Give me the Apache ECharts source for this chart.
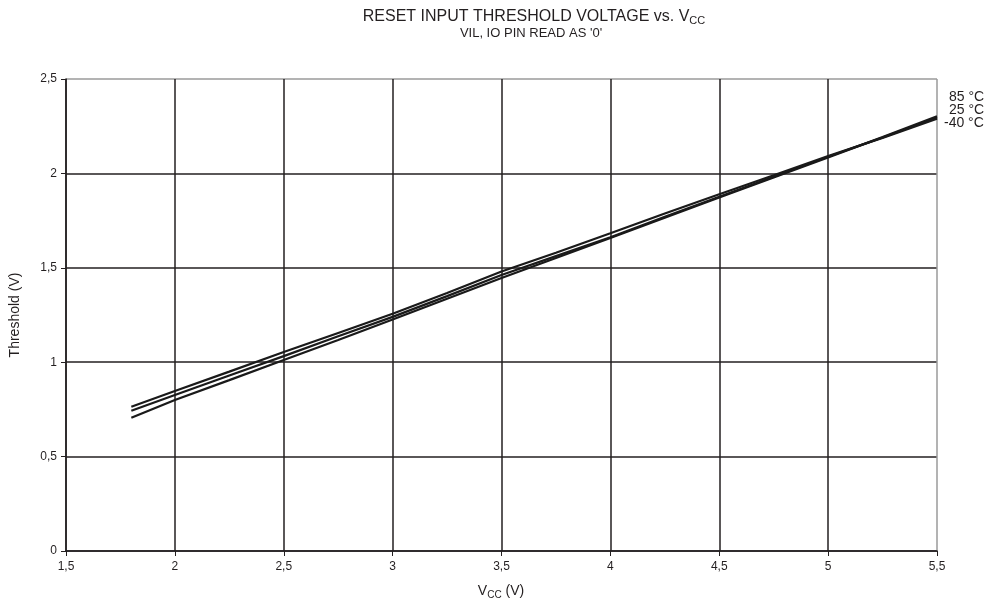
<!DOCTYPE html>
<html><head><meta charset="utf-8">
<script src="https://cdn.jsdelivr.net/npm/echarts@6/dist/echarts.min.js"></script>
<style>html,body{margin:0;padding:0;background:#fff}#c{width:997px;height:611px}</style>
</head><body><div id="c"></div>
<script>
const vcc = [1.8, 2.0, 2.25, 2.5, 2.75, 3.0, 3.25, 3.5, 3.75, 4.0, 4.25, 4.5, 4.75, 5.0, 5.25, 5.5];
const t85 = [0.706, 0.800, 0.905, 1.012, 1.118, 1.226, 1.336, 1.446, 1.552, 1.658, 1.765, 1.872, 1.978, 2.085, 2.192, 2.302];
const t25 = [0.743, 0.826, 0.930, 1.032, 1.137, 1.240, 1.350, 1.462, 1.562, 1.662, 1.770, 1.876, 1.982, 2.088, 2.190, 2.296];
const tm40 = [0.764, 0.847, 0.950, 1.054, 1.155, 1.257, 1.367, 1.480, 1.580, 1.683, 1.788, 1.890, 1.990, 2.092, 2.188, 2.290];
const seriesNames = ['85 °C', '25 °C', '-40 °C'];
const xTicks = [1.5, 2, 2.5, 3, 3.5, 4, 4.5, 5, 5.5];
const yTicks = [0, 0.5, 1, 1.5, 2, 2.5];

const fmt = v => String(v).replace('.', ',');
const pair = arr => vcc.map((x, i) => [x, arr[i]]);
const chart = echarts.init(document.getElementById('c'));
const font = 'Liberation Sans, Arial, sans-serif';
const dark = '#231f20';
const xCols = xTicks.map((v, i) => i === xTicks.length - 1 ? '#9a9a9a' : dark);
const yCols = yTicks.map((v, i) => i === yTicks.length - 1 ? '#9a9a9a' : dark);

chart.setOption({
  animation: false,
  backgroundColor: '#fff',
  grid: { left: 66, right: 60, top: 79, bottom: 60, containLabel: false },
  graphic: [
    { type: 'text', x: 534, y: 7, style: { align: 'center', verticalAlign: 'top', rich: { a: { fontSize: 16, fontFamily: font, fill: '#231f20' }, s: { fontSize: 11, fontFamily: font, fill: '#231f20', padding: [8, 0, 0, 0] } }, text: '{a|RESET INPUT THRESHOLD VOLTAGE vs. V}{s|CC}' } },
    { type: 'text', x: 531, y: 27, style: { align: 'center', verticalAlign: 'top', text: "VIL, IO PIN READ AS '0'", fontSize: 13, fontFamily: font, fill: '#231f20' } },
    { type: 'text', left: 949, top: 90, style: { text: seriesNames[0], fontSize: 14, fontFamily: font, fill: '#231f20' } },
    { type: 'text', left: 949, top: 103, style: { text: seriesNames[1], fontSize: 14, fontFamily: font, fill: '#231f20' } },
    { type: 'text', left: 944, top: 116, style: { text: seriesNames[2], fontSize: 14, fontFamily: font, fill: '#231f20' } },
    { type: 'text', x: 501, y: 583, style: { align: 'center', verticalAlign: 'top', rich: { a: { fontSize: 14, fontFamily: font, fill: '#231f20' }, s: { fontSize: 10, fontFamily: font, fill: '#231f20', padding: [7, 0, 0, 0] } }, text: '{a|V}{s|CC}{a| (V)}' } }
  ],
  xAxis: {
    type: 'value', min: 1.5, max: 5.5, interval: 0.5,
    axisLine: { show: true, onZero: false, lineStyle: { color: dark, width: 1.5 } },
    axisTick: { show: true, length: 5, lineStyle: { color: dark, width: 1 } },
    axisLabel: { formatter: fmt, fontSize: 12, fontFamily: font, color: '#231f20', margin: 10 },
    splitLine: { show: true, lineStyle: { color: xCols, width: 1.5 } }
  },
  yAxis: {
    type: 'value', min: 0, max: 2.5, interval: 0.5,
    name: 'Threshold (V)', nameLocation: 'middle', nameGap: 44, nameRotate: 90,
    nameTextStyle: { fontSize: 14, fontFamily: font, color: '#231f20' },
    axisLine: { show: true, lineStyle: { color: dark, width: 1.5 } },
    axisTick: { show: true, length: 5, lineStyle: { color: dark, width: 1 } },
    axisLabel: { formatter: fmt, fontSize: 12, fontFamily: font, color: '#231f20', margin: 9 },
    splitLine: { show: true, lineStyle: { color: yCols, width: 1.5 } }
  },
  series: [
    { name: seriesNames[0], type: 'line', data: pair(t85), showSymbol: false, lineStyle: { color: '#1a1a1a', width: 2.2 } },
    { name: seriesNames[1], type: 'line', data: pair(t25), showSymbol: false, lineStyle: { color: '#1a1a1a', width: 2.2 } },
    { name: seriesNames[2], type: 'line', data: pair(tm40), showSymbol: false, lineStyle: { color: '#1a1a1a', width: 2.2 } }
  ]
});
</script></body></html>
